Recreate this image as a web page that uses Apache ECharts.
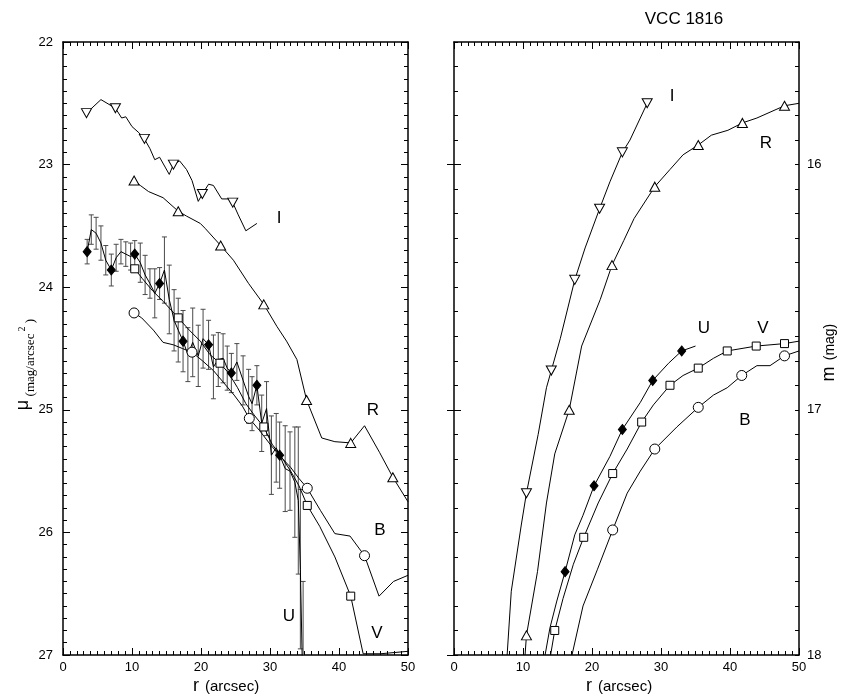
<!DOCTYPE html>
<html>
<head>
<meta charset="utf-8">
<script src="https://cdn.jsdelivr.net/npm/echarts@6/dist/echarts.min.js"></script>
<style>
  html, body { margin: 0; padding: 0; background: #ffffff; }
  #chart { width: 851px; height: 700px; }
</style>
</head>
<body>
<div id="chart"></div>
<script>
// ---- Surface brightness profiles, mu (mag/arcsec^2) vs r (arcsec) ----
const surfI = [[3.4,22.58],[5.5,22.47],[7.6,22.54],[8.5,22.62],[9.1,22.61],[10.0,22.69],[11.0,22.74],[11.8,22.79],[12.6,22.87],[13.3,22.96],[14.0,22.94],[14.8,23.02],[15.4,23.08],[16.0,23.00],[16.9,22.97],[17.9,23.04],[18.7,23.13],[19.6,23.30],[20.2,23.24],[21.1,23.16],[21.8,23.17],[23.0,23.28],[24.0,23.28],[24.6,23.31],[25.4,23.41],[26.5,23.54],[28.1,23.48]];
const surfIMarks = [[3.4,22.58],[7.6,22.54],[11.8,22.79],[16.0,23.00],[20.2,23.24],[24.6,23.31]];

const surfR = [[10.3,23.13],[11.2,23.17],[12.4,23.22],[14.5,23.27],[16.7,23.38],[17.9,23.42],[19.9,23.48],[20.6,23.52],[22.85,23.66],[24.7,23.78],[26.9,23.97],[29.1,24.14],[31.0,24.32],[32.4,24.44],[33.9,24.59],[35.3,24.92],[37.5,25.23],[39.4,25.26],[41.7,25.27],[43.7,25.13],[45.9,25.35],[47.8,25.55],[50.0,25.75]];
const surfRMarks = [[10.3,23.13],[16.7,23.38],[22.85,23.66],[29.1,24.14],[35.3,24.92],[41.7,25.27],[47.8,25.55]];

const surfB = [[10.3,24.21],[11.4,24.25],[13.1,24.35],[14.5,24.45],[16.0,24.47],[17.3,24.50],[18.7,24.53],[20.2,24.60],[21.8,24.68],[23.3,24.78],[24.8,24.88],[26.0,24.97],[27.0,25.07],[28.5,25.17],[30.0,25.28],[31.5,25.38],[33.0,25.47],[34.2,25.56],[35.4,25.64],[37.3,25.82],[39.4,26.01],[41.6,26.03],[43.7,26.19],[45.8,26.52],[47.9,26.40],[50.0,26.35]];
const surfBMarks = [[10.3,24.21],[18.7,24.53],[27.0,25.07],[35.4,25.64],[43.7,26.19]];

const surfV = [[10.4,23.85],[11.5,23.93],[13.0,24.03],[14.6,24.12],[16.7,24.25],[18.3,24.35],[19.9,24.44],[21.3,24.55],[22.75,24.62],[24.0,24.70],[25.3,24.82],[26.5,24.95],[27.8,25.05],[29.1,25.14],[30.3,25.28],[31.6,25.38],[33.0,25.50],[34.2,25.62],[35.4,25.78],[37.2,25.95],[39.4,26.20],[41.7,26.52],[43.5,26.99],[46.0,26.99],[48.0,26.98],[50.0,26.97]];
const surfVMarks = [[10.4,23.85],[16.7,24.25],[22.75,24.62],[29.1,25.14],[35.4,25.78],[41.7,26.52]];

const surfU = [[3.5,23.71],[4.1,23.53],[4.8,23.56],[5.5,23.64],[6.2,23.78],[7.0,23.86],[7.7,23.76],[8.4,23.71],[9.1,23.73],[9.8,23.75],[10.4,23.73],[11.2,23.80],[11.9,23.90],[12.6,23.97],[13.3,24.05],[14.0,23.97],[14.7,23.86],[15.4,24.10],[16.1,24.27],[16.7,24.35],[17.4,24.44],[18.1,24.55],[18.8,24.45],[19.6,24.56],[20.3,24.42],[21.1,24.47],[21.8,24.65],[22.5,24.59],[23.2,24.58],[23.8,24.66],[24.4,24.70],[25.2,24.61],[26.1,24.76],[26.9,24.89],[27.4,24.95],[28.1,24.80],[28.8,25.11],[29.5,24.99],[30.2,25.37],[30.9,25.31],[31.4,25.37],[32.2,25.48],[32.9,25.50],[33.6,25.59],[34.1,25.74],[34.4,26.30],[34.8,27.40]];
const surfUErr = [0.10,0.12,0.13,0.14,0.12,0.13,0.11,0.10,0.10,0.11,0.11,0.16,0.16,0.12,0.20,0.13,0.27,0.28,0.25,0.26,0.25,0.22,0.28,0.25,0.24,0.20,0.26,0.22,0.20,0.18,0.16,0.15,0.20,0.22,0.22,0.16,0.23,0.22,0.32,0.28,0.27,0.35,0.32,0.45,0.60,0.65,1.00];
const surfUMarks = [[3.5,23.71],[7.0,23.86],[10.4,23.73],[14.0,23.97],[17.4,24.44],[21.1,24.47],[24.4,24.70],[28.1,24.80],[31.4,25.37]];

// ---- Growth curves, m (mag) vs r (arcsec) ----
const growI = [[7.7,18.00],[8.3,17.74],[9.75,17.47],[10.5,17.34],[12.2,17.10],[13.4,16.91],[14.1,16.84],[15.4,16.71],[17.5,16.47],[19.0,16.34],[21.1,16.18],[22.6,16.07],[24.4,15.95],[25.5,15.90],[28.0,15.75]];
const growIMarks = [[10.5,17.34],[14.1,16.84],[17.5,16.47],[21.1,16.18],[24.4,15.95],[28.0,15.75]];

const growR = [[10.3,18.00],[10.5,17.92],[12.1,17.66],[13.4,17.38],[14.6,17.18],[16.7,17.00],[18.5,16.74],[21.2,16.55],[22.9,16.41],[24.6,16.31],[26.1,16.22],[29.1,16.09],[31.3,16.02],[33.2,15.96],[35.4,15.92],[37.3,15.88],[39.7,15.86],[41.8,15.83],[43.9,15.81],[47.9,15.76],[50.0,15.75]];
const growRMarks = [[10.5,17.92],[16.7,17.00],[22.9,16.41],[29.1,16.09],[35.4,15.92],[41.8,15.83],[47.9,15.76]];

const growU = [[13.2,18.00],[13.9,17.89],[14.9,17.78],[16.1,17.66],[17.5,17.51],[18.7,17.43],[20.3,17.31],[22.6,17.19],[24.4,17.08],[27.0,16.97],[28.8,16.88],[31.1,16.81],[33.0,16.76],[35.0,16.74]];
const growUMarks = [[16.1,17.66],[20.3,17.31],[24.4,17.08],[28.8,16.88],[33.0,16.76]];

const growV = [[14.0,18.00],[14.6,17.90],[15.8,17.77],[17.3,17.63],[18.8,17.52],[20.9,17.38],[23.0,17.26],[25.1,17.16],[27.2,17.05],[28.9,16.98],[31.3,16.90],[33.2,16.86],[35.4,16.83],[37.6,16.79],[39.6,16.76],[43.8,16.74],[47.9,16.73],[50.0,16.72]];
const growVMarks = [[14.6,17.90],[18.8,17.52],[23.0,17.26],[27.2,17.05],[31.3,16.90],[35.4,16.83],[39.6,16.76],[43.8,16.74],[47.9,16.73]];

const growB = [[17.1,18.00],[18.7,17.80],[20.8,17.65],[23.0,17.49],[25.1,17.34],[27.0,17.25],[29.1,17.16],[32.3,17.07],[35.4,16.99],[37.6,16.94],[39.6,16.91],[41.7,16.86],[43.9,16.82],[45.8,16.82],[47.9,16.78],[50.0,16.76]];
const growBMarks = [[23.0,17.49],[29.1,17.16],[35.4,16.99],[41.7,16.86],[47.9,16.78]];

// axis ranges and tick labels
const rRange = [0, 50];
const muRange = [22, 27];
const magRange = [15.5, 18];
const magTicks = [16, 17, 18];
const magInnerTicks = [16, 17];

const FONT = 'Arial, "Liberation Sans", sans-serif';
const SERIF = '"Times New Roman", "Liberation Serif", serif';

const chart = echarts.init(document.getElementById('chart'), null, { renderer: 'canvas' });

function xAx(grid, pos, labels) {
  return {
    type: 'value', gridIndex: grid, position: pos, min: rRange[0], max: rRange[1], interval: 10,
    axisLine: { show: true, onZero: false, lineStyle: { color: '#000', width: 1.5 } },
    axisTick: { show: true, inside: true, length: 7, lineStyle: { color: '#000', width: 1 } },
    minorTick: { show: true, splitNumber: 10, length: 4, lineStyle: { color: '#000', width: 1 } },
    axisLabel: { show: labels, margin: 6, color: '#000', fontFamily: FONT, fontSize: 13 },
    splitLine: { show: false }, minorSplitLine: { show: false }
  };
}

function muAx(pos, labels) {
  return {
    type: 'value', gridIndex: 0, position: pos, inverse: true, min: muRange[0], max: muRange[1], interval: 1,
    axisLine: { show: true, onZero: false, lineStyle: { color: '#000', width: 1.5 } },
    axisTick: { show: true, inside: true, length: 7, lineStyle: { color: '#000', width: 1 } },
    minorTick: { show: true, splitNumber: 10, length: 4, lineStyle: { color: '#000', width: 1 } },
    axisLabel: { show: labels, margin: 10, color: '#000', fontFamily: FONT, fontSize: 13 },
    splitLine: { show: false }, minorSplitLine: { show: false }
  };
}

// fine ticks every 0.1 mag
function magFineAx(pos) {
  return {
    type: 'value', gridIndex: 1, position: pos, inverse: true, min: magRange[0], max: magRange[1], interval: 0.1,
    axisLine: { show: true, onZero: false, lineStyle: { color: '#000', width: 1.5 } },
    axisTick: { show: true, inside: true, length: 4, lineStyle: { color: '#000', width: 1 } },
    axisLabel: { show: false },
    splitLine: { show: false }
  };
}

// long ticks (and labels) at whole magnitudes
function magMajorAx(pos, ticks, labels) {
  return {
    type: 'value', gridIndex: 1, position: pos, inverse: true, min: magRange[0], max: magRange[1],
    axisLine: { show: false },
    axisTick: { show: true, inside: true, length: 7, customValues: ticks, lineStyle: { color: '#000', width: 1 } },
    axisLabel: { show: labels, customValues: magTicks, margin: 8, color: '#000', fontFamily: FONT, fontSize: 13 },
    splitLine: { show: false }
  };
}

function lineSeries(data, xi, yi) {
  return {
    type: 'line', data: data, xAxisIndex: xi, yAxisIndex: yi, symbol: 'none', clip: true,
    lineStyle: { color: '#000', width: 1 }, silent: true, z: 3
  };
}

function markSeries(data, xi, yi, symbol, size, fill, rotate) {
  return {
    type: 'scatter', data: data, xAxisIndex: xi, yAxisIndex: yi, symbol: symbol, symbolSize: size,
    symbolRotate: rotate || 0, clip: true, silent: true, z: 5,
    itemStyle: { color: fill, borderColor: '#000', borderWidth: 1, opacity: 1 }
  };
}

const errBars = surfU.map(function (p, i) { return [p[0], p[1] - surfUErr[i], p[1] + surfUErr[i]]; });

const errSeries = {
  type: 'custom', xAxisIndex: 0, yAxisIndex: 0, data: errBars, silent: true, z: 2,
  renderItem: function (params, api) {
    const cs = params.coordSys;
    const top = cs.y, bottom = cs.y + cs.height;
    const a = api.coord([api.value(0), api.value(1)]);
    const b = api.coord([api.value(0), api.value(2)]);
    const y1 = Math.max(top, Math.min(a[1], b[1]));
    const y2 = Math.min(bottom, Math.max(a[1], b[1]));
    const x = a[0], w = 2.5;
    const st = { stroke: '#4a4a4a', lineWidth: 1 };
    const kids = [{ type: 'line', shape: { x1: x, y1: y1, x2: x, y2: y2 }, style: st }];
    if (Math.min(a[1], b[1]) >= top) kids.push({ type: 'line', shape: { x1: x - w, y1: y1, x2: x + w, y2: y1 }, style: st });
    if (Math.max(a[1], b[1]) <= bottom) kids.push({ type: 'line', shape: { x1: x - w, y1: y2, x2: x + w, y2: y2 }, style: st });
    return { type: 'group', children: kids };
  }
};

function txt(x, y, s, size, extra) {
  return Object.assign({
    type: 'text', x: x, y: y, silent: true,
    style: { text: s, fill: '#000', font: size + 'px ' + FONT, textAlign: 'center', textVerticalAlign: 'middle' }
  }, extra || {});
}

function vtxt(x, y, s, font) {
  return {
    type: 'text', x: x, y: y, rotation: Math.PI / 2, silent: true,
    style: { text: s, fill: '#000', font: font, textAlign: 'center', textVerticalAlign: 'middle' }
  };
}

const option = {
  animation: false,
  backgroundColor: '#ffffff',
  grid: [
    { left: 63, top: 42, width: 345, height: 613 },
    { left: 454, top: 42, width: 345, height: 613 }
  ],
  xAxis: [xAx(0, 'bottom', true), xAx(0, 'top', false), xAx(1, 'bottom', true), xAx(1, 'top', false)],
  yAxis: [
    muAx('left', true), muAx('right', false),
    magFineAx('left'), magMajorAx('left', magInnerTicks, false),
    magFineAx('right'), magMajorAx('right', magTicks, true)
  ],
  series: [
    errSeries,
    lineSeries(surfI, 0, 0), markSeries(surfIMarks, 0, 0, 'triangle', [10, 9], '#fff', 180),
    lineSeries(surfR, 0, 0), markSeries(surfRMarks, 0, 0, 'triangle', [10, 9], '#fff'),
    lineSeries(surfB, 0, 0), markSeries(surfBMarks, 0, 0, 'circle', 10, '#fff'),
    lineSeries(surfV, 0, 0), markSeries(surfVMarks, 0, 0, 'rect', 8, '#fff'),
    lineSeries(surfU, 0, 0), markSeries(surfUMarks, 0, 0, 'diamond', [8, 10], '#000'),

    lineSeries(growI, 2, 2), markSeries(growIMarks, 2, 2, 'triangle', [10, 9], '#fff', 180),
    lineSeries(growR, 2, 2), markSeries(growRMarks, 2, 2, 'triangle', [10, 9], '#fff'),
    lineSeries(growU, 2, 2), markSeries(growUMarks, 2, 2, 'diamond', [8, 10], '#000'),
    lineSeries(growV, 2, 2), markSeries(growVMarks, 2, 2, 'rect', 8, '#fff'),
    lineSeries(growB, 2, 2), markSeries(growBMarks, 2, 2, 'circle', 10, '#fff')
  ],
  graphic: [
    txt(684, 19, 'VCC 1816', 17),
    // band names, left panel
    txt(279, 218, 'I', 17), txt(373, 410, 'R', 17), txt(380, 530, 'B', 17),
    txt(289, 616, 'U', 17), txt(377, 633, 'V', 17),
    // band names, right panel
    txt(672, 96, 'I', 17), txt(766, 143, 'R', 17), txt(704, 328, 'U', 17),
    txt(763, 328, 'V', 17), txt(745, 420, 'B', 17),
    // x-axis titles
    { type: 'text', x: 193, y: 686, silent: true, style: { text: 'r', fill: '#000', font: '18px ' + FONT, textAlign: 'left', textVerticalAlign: 'middle' } },
    { type: 'text', x: 205, y: 687, silent: true, style: { text: '(arcsec)', fill: '#000', font: '15px ' + FONT, textAlign: 'left', textVerticalAlign: 'middle' } },
    { type: 'text', x: 586, y: 686, silent: true, style: { text: 'r', fill: '#000', font: '18px ' + FONT, textAlign: 'left', textVerticalAlign: 'middle' } },
    { type: 'text', x: 598, y: 687, silent: true, style: { text: '(arcsec)', fill: '#000', font: '15px ' + FONT, textAlign: 'left', textVerticalAlign: 'middle' } },
    // left y-axis title: mu (mag/arcsec^2)
    vtxt(23, 405, '\u03bc', '18px ' + FONT),
    vtxt(31, 365, '(mag/arcsec', '13px ' + SERIF),
    vtxt(22, 329, '2', '10px ' + SERIF),
    vtxt(31, 321, ')', '13px ' + SERIF),
    // right y-axis title: m (mag)
    vtxt(829, 374, 'm', '18px ' + FONT),
    vtxt(830, 342, '(mag)', '14px ' + FONT)
  ]
};

chart.setOption(option);
</script>
</body>
</html>
